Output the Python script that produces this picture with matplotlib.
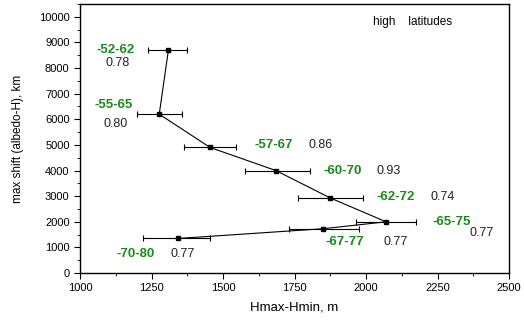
import matplotlib.pyplot as plt
from matplotlib.ticker import MultipleLocator

plt.rcParams["font.family"] = ["Liberation Sans", "DejaVu Sans"]

# latitude bands, top to bottom along the curve
bands = ["-52-62", "-55-65", "-57-67", "-60-70", "-62-72", "-65-75", "-67-77", "-70-80"]
corr = ["0.78", "0.80", "0.86", "0.93", "0.74", "0.77", "0.77", "0.77"]
dh = [1309, 1277, 1455, 1685, 1875, 2070, 1850, 1343]
shift = [8700, 6200, 4900, 4000, 2930, 2000, 1730, 1350]
err_lo = [1236, 1198, 1364, 1577, 1762, 1965, 1732, 1219]
err_hi = [1375, 1358, 1545, 1805, 1990, 2175, 1975, 1455]

# label positions (data coords) for the band name and correlation value
band_xy = [(1126, 8700), (1119, 6560), (1677, 5000), (1920, 4000),
           (2103, 2950), (2299, 2000), (1927, 1213), (1194, 748)]
corr_xy = [(1133, 8180), (1124, 5820), (1841, 5000), (2080, 4000),
           (2269, 2950), (2404, 1562), (2105, 1213), (1360, 748)]

fig = plt.figure(figsize=(5.24, 3.22), dpi=100)
ax = fig.add_axes([0.1527, 0.152, 0.8187, 0.8356])

xerr = [[d - lo for d, lo in zip(dh, err_lo)], [hi - d for d, hi in zip(dh, err_hi)]]
ax.errorbar(dh, shift, xerr=xerr, color="black", lw=0.8, elinewidth=0.8,
            capsize=2.5, capthick=0.8, marker="s", ms=2.2)

green = "#1a8a1a"
for name, (x, y) in zip(bands, band_xy):
    ax.text(x, y, name, color=green, fontsize=9.5, fontweight="bold",
            ha="center", va="center")
for c, (x, y) in zip(corr, corr_xy):
    ax.text(x, y, c, color="#222222", fontsize=9, ha="center", va="center")

ax.text(2164, 9780, "high    latitudes", fontsize=8.5, ha="center", va="center")

ax.set_xlim(1000, 2500)
ax.set_ylim(0, 10500)
ax.xaxis.set_major_locator(MultipleLocator(250))
ax.xaxis.set_minor_locator(MultipleLocator(125))
ax.yaxis.set_major_locator(MultipleLocator(1000))
ax.yaxis.set_minor_locator(MultipleLocator(500))
ax.tick_params(which="both", direction="out", top=False, right=False, labelsize=8)
ax.tick_params(which="major", length=4)
ax.tick_params(which="minor", length=2.5)
for s in ax.spines.values():
    s.set_linewidth(1.0)

ax.set_xlabel("Hmax-Hmin, m", fontsize=9.5, labelpad=6)
ax.set_ylabel("max shift (albedo-H), km", fontsize=8.5, labelpad=11)

fig.savefig("out.png", dpi=100)
